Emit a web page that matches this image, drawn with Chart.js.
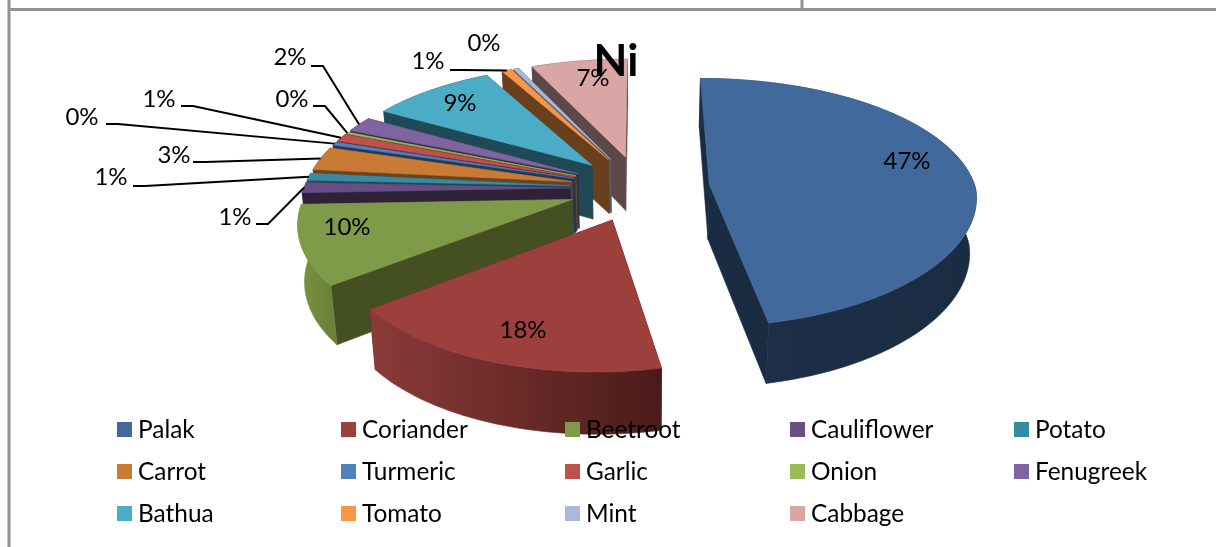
<!DOCTYPE html>
<html>
<head>
<meta charset="utf-8">
<title>Ni</title>
<script src="https://cdn.jsdelivr.net/npm/chart.js@4"></script>
<style>
  html, body { margin: 0; background: #fff; overflow: hidden; }
  canvas { display: block; }
</style>
</head>
<body>
<canvas id="ni-chart" width="1216" height="547"></canvas>
<script>
// Data
const categories = ["Palak", "Coriander", "Beetroot", "Cauliflower", "Potato", "Carrot", "Turmeric",
  "Garlic", "Onion", "Fenugreek", "Bathua", "Tomato", "Mint", "Cabbage"];
const shares = [46.6, 17.8, 10, 1.3, 0.9, 3, 0.4, 1, 0.2, 2, 8.8, 0.7, 0.4, 6.9];

// Colours
const topColors = ["#41699c", "#9c3f3d", "#7f9a48", "#674e85", "#388ba3", "#c97a35", "#4f81bd",
  "#c0504d", "#9bbb59", "#8064a2", "#4bacc6", "#f79646", "#aab9d9", "#d9a6a5"];
const cutColors = ["#1a2c42", "#4a1c1a", "#455022", "#2e2238", "#1f4a55", "#6a4320", "#22375a",
  "#5a2523", "#4a5a28", "#3a2d4a", "#1f4a55", "#6a3f1e", "#4f5a70", "#5c4846"];
const rimLeft = ["#1d3049", "#8b3b39", "#7a9443", "#2e2238", "#1f4a55", "#6a4320", "#22375a",
  "#5a2523", "#4a5a28", "#3a2d4a", "#1f4a55", "#6a3f1e", "#4f5a70", "#5c4846"];
const rimRight = ["#1a2c42", "#4a1b19", "#6a8239", "#2e2238", "#1f4a55", "#6a4320", "#22375a",
  "#5a2523", "#4a5a28", "#3a2d4a", "#1f4a55", "#6a3f1e", "#4f5a70", "#5c4846"];

// Where the percent labels sit (label centre), and the elbow of the leader line if it has one
const labelSpots = [[907, 161], [523, 330], [347, 227], [235, 217], [111, 177], [174, 155], [82, 117],
  [159, 99], [292, 99], [290, 57], [460, 103], [428, 61], [484, 43], [593, 78]];
const leaderElbows = [null, null, null, [268, 224], [145, 186], [205, 162], [118, 124],
  [193, 106], [325, 106], [323, 66], null, [462, 70], null, null];

const legendCols = [117, 341, 565, 790, 1014];
const legendRows = [430, 472, 514];

const pieView = { cx: 640, cy: 188, r: 266, depth: 55, k: 0.47, m: 0.000254, sx: 0.00048, skew: 0.05 };
const FONT = "Lato, sans-serif";

function project(X, Y, z) {
  const v = pieView;
  let x = v.cx + X * (1 + Y * v.sx) - Math.max(Y, 0) * v.skew;
  let y = v.cy + Y * (v.k + v.m * Y);
  if (z) {
    y += v.depth * (1 + Y * 0.0004);
    x -= (x - v.cx) * 0.02;
  }
  return [x, y];
}

function sliceGeometry(arc) {
  const mid = (arc.startAngle + arc.endAngle) / 2;
  const off = arc.options.offset;
  const ax = Math.cos(mid) * off;
  const ay = Math.sin(mid) * off;
  const rim = [];
  const steps = Math.max(2, Math.ceil((arc.endAngle - arc.startAngle) / 0.03));
  for (let i = 0; i <= steps; i++) {
    const a = arc.startAngle + (arc.endAngle - arc.startAngle) * i / steps;
    rim.push([ax + Math.cos(a) * pieView.r, ay + Math.sin(a) * pieView.r]);
  }
  return { mid, ax, ay, rim };
}

function fillPoly(ctx, pts, color) {
  ctx.beginPath();
  pts.forEach((p, i) => (i ? ctx.lineTo(p[0], p[1]) : ctx.moveTo(p[0], p[1])));
  ctx.closePath();
  ctx.fillStyle = color;
  ctx.strokeStyle = color;
  ctx.lineWidth = 0.6;
  ctx.fill();
  ctx.stroke();
}

function drawSlice(ctx, geo, i) {
  const apex = [geo.ax, geo.ay];
  const wall = (a, b, color) => fillPoly(ctx, [
    project(a[0], a[1], 0), project(b[0], b[1], 0), project(b[0], b[1], 1), project(a[0], a[1], 1)
  ], color);

  wall(apex, geo.rim[0], cutColors[i]);
  wall(apex, geo.rim[geo.rim.length - 1], cutColors[i]);

  const rimTop = geo.rim.map((p) => project(p[0], p[1], 0));
  const rimBottom = geo.rim.map((p) => project(p[0], p[1], 1)).reverse();
  const xs = rimTop.map((p) => p[0]);
  const grad = ctx.createLinearGradient(Math.min(...xs), 0, Math.max(...xs), 0);
  grad.addColorStop(0, rimLeft[i]);
  grad.addColorStop(1, rimRight[i]);
  fillPoly(ctx, rimTop.concat(rimBottom), grad);

  fillPoly(ctx, [project(apex[0], apex[1], 0)].concat(rimTop), topColors[i]);
}

// Pie is laid out by Chart.js; this paints its arc elements tilted with a side wall
const tiltedPie = {
  id: "tiltedPie",
  beforeDraw(chart) {
    const ctx = chart.ctx;
    ctx.save();
    ctx.fillStyle = "#fff";
    ctx.fillRect(0, 0, chart.width, chart.height);
    ctx.strokeStyle = "#939393";
    ctx.lineWidth = 3;
    ctx.beginPath();
    ctx.moveTo(9, 0);
    ctx.lineTo(9, 547);
    ctx.moveTo(9, 9.5);
    ctx.lineTo(1216, 9.5);
    ctx.moveTo(802, 0);
    ctx.lineTo(802, 9.5);
    ctx.stroke();
    ctx.restore();
  },
  beforeDatasetsDraw(chart) {
    const ctx = chart.ctx;
    const arcs = chart.getDatasetMeta(0).data;
    const geos = arcs.map(sliceGeometry);
    const order = geos.map((g, i) => i).sort((a, b) => geos[a].ay - geos[b].ay);
    ctx.save();
    order.forEach((i) => drawSlice(ctx, geos[i], i));

    // leader lines
    ctx.strokeStyle = "#000";
    ctx.lineWidth = 2;
    geos.forEach((g, i) => {
      const elbow = leaderElbows[i];
      if (!elbow) return;
      const rx = g.ax + Math.cos(g.mid) * pieView.r;
      const ry = g.ay + Math.sin(g.mid) * pieView.r;
      const end = project(rx, ry, 0);
      ctx.beginPath();
      ctx.moveTo(elbow[0] - 12, elbow[1]);
      ctx.lineTo(elbow[0], elbow[1]);
      ctx.lineTo(end[0], end[1]);
      ctx.stroke();
    });

    // percent labels
    ctx.fillStyle = "#000";
    ctx.font = "24px " + FONT;
    ctx.textAlign = "center";
    ctx.textBaseline = "middle";
    const total = shares.reduce((a, b) => a + b, 0);
    shares.forEach((v, i) => {
      ctx.fillText(Math.round(v / total * 100) + "%", labelSpots[i][0], labelSpots[i][1]);
    });

    // title
    ctx.font = "bold 44px " + FONT;
    ctx.fillText("Ni", 616, 62);

    // legend
    ctx.font = "24.4px " + FONT;
    ctx.textAlign = "left";
    categories.forEach((name, i) => {
      const x = legendCols[i % legendCols.length];
      const y = legendRows[Math.floor(i / legendCols.length)];
      ctx.fillStyle = topColors[i];
      ctx.fillRect(x, y - 8, 15, 15);
      ctx.fillStyle = "#000";
      ctx.fillText(name, x + 21, y);
    });
    ctx.restore();
    return false; // arcs are already painted
  }
};

new Chart(document.getElementById("ni-chart"), {
  type: "pie",
  data: {
    labels: categories,
    datasets: [{
      data: shares,
      backgroundColor: topColors,
      offset: 70,
      borderWidth: 0
    }]
  },
  options: {
    responsive: false,
    animation: false,
    plugins: { legend: { display: false }, tooltip: { enabled: false } }
  },
  plugins: [tiltedPie]
});
</script>
</body>
</html>
